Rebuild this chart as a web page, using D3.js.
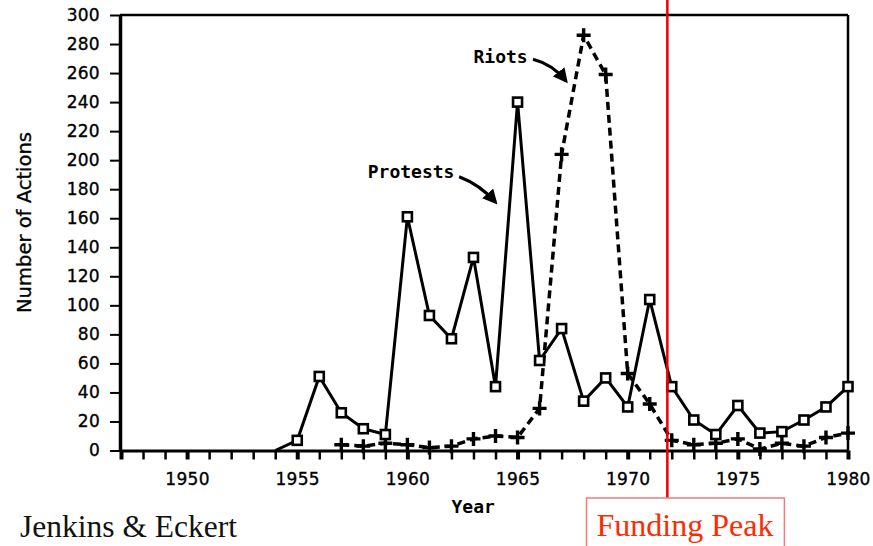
<!DOCTYPE html>
<html>
<head>
<meta charset="utf-8">
<script src="https://cdn.jsdelivr.net/npm/d3@7"></script>
<style>
  body { margin: 0; background: #fff; }
  svg { display: block; }
  .tick text { font-family: "DejaVu Sans", sans-serif; font-size: 17px; letter-spacing: 0.3px; fill: #000; stroke: #000; stroke-width: 0.35px; }
  .label { font-family: "DejaVu Sans Mono", monospace; font-weight: bold; font-size: 18px; fill: #000; }
</style>
</head>
<body>
<svg id="chart" width="873" height="546"></svg>
<script>
const protestYears = [1954, 1955, 1956, 1957, 1958, 1959, 1960, 1961, 1962, 1963, 1964, 1965, 1966,
  1967, 1968, 1969, 1970, 1971, 1972, 1973, 1974, 1975, 1976, 1977, 1978, 1979, 1980];
const protestCounts = [0, 7, 51, 26, 15, 11, 161, 93, 77, 133, 44, 240, 62,
  84, 34, 50, 30, 104, 44, 21, 11, 31, 12, 13, 21, 30, 44];

const riotYears = [1957, 1958, 1959, 1960, 1961, 1962, 1963, 1964, 1965, 1966, 1967, 1968,
  1969, 1970, 1971, 1972, 1973, 1974, 1975, 1976, 1977, 1978, 1979, 1980];
const riotCounts = [4, 3, 5, 4, 2, 3, 8, 10, 9, 29, 204, 286,
  259, 53, 32, 7, 4, 5, 8, 1, 5, 3, 9, 12];

const allYears = [1947, 1948, 1949, 1950, 1951, 1952, 1953, 1954, 1955, 1956, 1957, 1958, 1959,
  1960, 1961, 1962, 1963, 1964, 1965, 1966, 1967, 1968, 1969, 1970, 1971, 1972, 1973, 1974,
  1975, 1976, 1977, 1978, 1979, 1980];
const yearLabels = [1950, 1955, 1960, 1965, 1970, 1975, 1980];
const majorYears = [1947, 1950, 1955, 1960, 1965, 1970, 1975, 1980];
const countTicks = [0, 20, 40, 60, 80, 100, 120, 140, 160, 180, 200, 220, 240, 260, 280, 300];

const fundingPeakYear = 1971.8;

const svg = d3.select("#chart");

const x = d3.scaleLinear().domain([1947, 1980]).range([121, 848]);
const y = d3.scaleLinear().domain([0, 300]).range([450.5, 15]);

// arrowhead for the hand-drawn annotations
svg.append("defs").append("marker")
  .attr("id", "arrow")
  .attr("viewBox", "0 0 10 10")
  .attr("refX", 8)
  .attr("refY", 5)
  .attr("markerWidth", 4.6)
  .attr("markerHeight", 4.6)
  .attr("orient", "auto")
  .append("path")
  .attr("d", "M0,0 L10,5 L0,10 Z")
  .attr("fill", "#000");

// x axis
const xAxis = svg.append("g")
  .attr("transform", `translate(0,${y(0)})`)
  .call(d3.axisBottom(x)
    .tickValues(allYears)
    .tickSize(9)
    .tickSizeOuter(0)
    .tickPadding(13)
    .tickFormat(d => yearLabels.includes(d) ? d : ""));
xAxis.select(".domain").attr("stroke", "#000").attr("stroke-width", 3);
xAxis.selectAll(".tick line")
  .attr("stroke", "#000")
  .attr("stroke-width", d => majorYears.includes(d) ? 4 : 2.5);

// y axis
const yAxis = svg.append("g")
  .attr("transform", `translate(${x(1947) - 1},0)`)
  .call(d3.axisLeft(y)
    .tickValues(countTicks)
    .tickSize(10)
    .tickSizeOuter(0)
    .tickPadding(10));
yAxis.select(".domain").attr("stroke", "#000").attr("stroke-width", 3.5);
yAxis.selectAll(".tick line").attr("stroke", "#000").attr("stroke-width", 2);

// frame: top and right edges
svg.append("line")
  .attr("x1", x(1947) - 1).attr("x2", x(1980))
  .attr("y1", y(300)).attr("y2", y(300))
  .attr("stroke", "#000").attr("stroke-width", 2.5);
svg.append("line")
  .attr("x1", x(1980)).attr("x2", x(1980))
  .attr("y1", y(300)).attr("y2", y(0))
  .attr("stroke", "#000").attr("stroke-width", 2.5);

// axis titles
svg.append("text")
  .attr("class", "label")
  .attr("x", x(1962))
  .attr("y", 513)
  .text("Year");

svg.append("text")
  .attr("transform", "translate(31,222.5) rotate(-90)")
  .attr("text-anchor", "middle")
  .attr("textLength", 181)
  .attr("lengthAdjust", "spacingAndGlyphs")
  .style("font-family", "'Liberation Sans Narrow', 'DejaVu Sans Condensed', sans-serif")
  .style("font-size", "20px")
  .style("fill", "#000")
  .style("stroke", "#000")
  .style("stroke-width", "0.3px")
  .text("Number of Actions");

// series
const protests = protestYears.map((yr, i) => ({ year: yr, value: protestCounts[i] }));
const riots = riotYears.map((yr, i) => ({ year: yr, value: riotCounts[i] }));

const line = d3.line().x(d => x(d.year)).y(d => y(d.value));

svg.append("path")
  .datum(riots)
  .attr("d", line)
  .attr("fill", "none")
  .attr("stroke", "#000")
  .attr("stroke-width", 3.5)
  .attr("stroke-dasharray", "8,5");

svg.append("path")
  .datum(protests)
  .attr("d", line)
  .attr("fill", "none")
  .attr("stroke", "#000")
  .attr("stroke-width", 3)
  .attr("stroke-linejoin", "miter");

svg.selectAll(".riot")
  .data(riots)
  .join("path")
  .attr("class", "riot")
  .attr("transform", d => `translate(${x(d.year)},${y(d.value)})`)
  .attr("d", "M-7,0 H7 M0,-7 V7")
  .attr("stroke", "#000")
  .attr("stroke-width", 3.4);

svg.selectAll(".protest")
  .data(protests.filter(d => d.value > 0))
  .join("rect")
  .attr("class", "protest")
  .attr("x", d => x(d.year) - 4.5)
  .attr("y", d => y(d.value) - 4.5)
  .attr("width", 9)
  .attr("height", 9)
  .attr("fill", "#fff")
  .attr("stroke", "#000")
  .attr("stroke-width", 2.6);

// annotations
svg.append("text")
  .attr("class", "label")
  .attr("x", x(1963.0))
  .attr("y", y(267))
  .text("Riots");
svg.append("path")
  .attr("d", `M${x(1965.7)},${y(269.5)} Q${x(1966.6)},${y(266)} ${x(1967.2)},${y(254.5)}`)
  .attr("fill", "none")
  .attr("stroke", "#000")
  .attr("stroke-width", 3.2)
  .attr("marker-end", "url(#arrow)");

svg.append("text")
  .attr("class", "label")
  .attr("x", x(1958.2))
  .attr("y", y(187.7))
  .text("Protests");
svg.append("path")
  .attr("d", `M${x(1962.35)},${y(188.5)} Q${x(1963.3)},${y(183)} ${x(1964.0)},${y(171)}`)
  .attr("fill", "none")
  .attr("stroke", "#000")
  .attr("stroke-width", 3.2)
  .attr("marker-end", "url(#arrow)");

// source
svg.append("text")
  .attr("x", 20)
  .attr("y", 537)
  .style("font-family", "'Liberation Serif', 'Times New Roman', serif")
  .style("font-size", "31.5px")
  .style("fill", "#111")
  .text("Jenkins & Eckert");

// funding peak marker
const fx = x(fundingPeakYear);
svg.append("line")
  .attr("x1", fx).attr("x2", fx)
  .attr("y1", 0).attr("y2", 498)
  .attr("stroke", "#ee0000")
  .attr("stroke-width", 2.5);

const peakText = svg.append("text")
  .attr("x", 596.5)
  .attr("y", 536)
  .style("font-family", "'Liberation Serif', 'Times New Roman', serif")
  .style("font-size", "32px")
  .style("fill", "#ff2a00")
  .text("Funding Peak");
const bb = peakText.node().getBBox();
svg.append("rect")
  .attr("x", bb.x - 10)
  .attr("y", 498)
  .attr("width", bb.width + 21)
  .attr("height", 60)
  .attr("fill", "none")
  .attr("stroke", "#f07c7c")
  .attr("stroke-width", 1.5);
</script>
</body>
</html>
